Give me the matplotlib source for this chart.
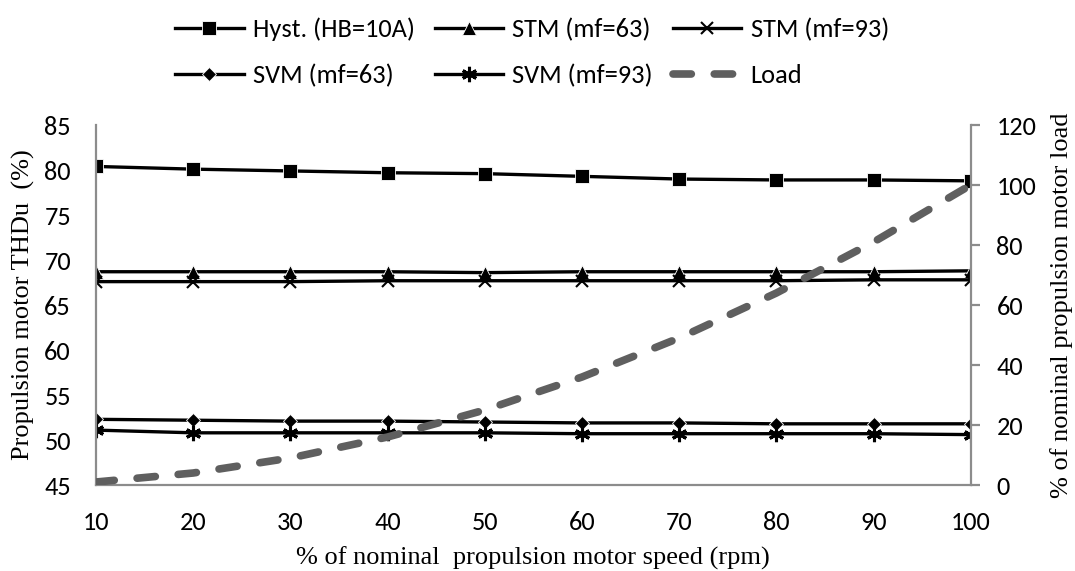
import matplotlib
matplotlib.use("Agg")
import matplotlib.pyplot as plt

speed = [10, 20, 30, 40, 50, 60, 70, 80, 90, 100]
hyst = [80.4, 80.1, 79.9, 79.7, 79.6, 79.3, 79.0, 78.9, 78.9, 78.8]
stm63 = [68.7, 68.7, 68.7, 68.7, 68.6, 68.7, 68.7, 68.7, 68.7, 68.8]
stm93 = [67.6, 67.6, 67.6, 67.7, 67.7, 67.7, 67.7, 67.7, 67.8, 67.8]
svm63 = [52.3, 52.2, 52.1, 52.1, 52.0, 51.9, 51.9, 51.8, 51.8, 51.8]
svm93 = [51.1, 50.8, 50.8, 50.8, 50.8, 50.7, 50.7, 50.7, 50.7, 50.6]
load = [1, 4, 9, 16, 25, 36, 49, 64, 81, 100]

SANS = ["Carlito", "Lato", "DejaVu Sans"]     # Carlito = Calibri metrics
SERIF = ["Liberation Serif", "DejaVu Serif"]
GREY = "#8c8c8c"

plt.rcParams["font.family"] = SANS

fig = plt.figure(figsize=(10.75, 5.71), dpi=100)
ax = fig.add_axes([0.0893, 0.1506, 0.8137, 0.6304])
ax2 = ax.twinx()

line_kw = dict(color="black", lw=2.4, ms=10, mec="white", mew=0.6)
h1, = ax.plot(speed, hyst, marker="s", label="Hyst. (HB=10A)", **line_kw)
h2, = ax.plot(speed, stm63, marker="^", label="STM (mf=63)", **line_kw)
h3, = ax.plot(speed, stm93, marker="x", label="STM (mf=93)",
              color="black", lw=2.4, ms=9, mew=1.5)
h4, = ax.plot(speed, svm63, marker="D", label="SVM (mf=63)",
              color="black", lw=2.4, ms=7.5, mec="white", mew=0.6)
h5, = ax.plot(speed, svm93, marker=(6, 2, 0), label="SVM (mf=93)",
              color="black", lw=2.4, ms=11, mew=2.2)
h6, = ax2.plot(speed, load, color="#5f5f5f", lw=5.5, ls=(0, (2.4, 3.0)),
               dash_capstyle="round", label="Load")

ax.set_xlim(10, 100)
ax.set_ylim(45, 85)
ax.set_yticks(range(45, 86, 5))
ax.set_xticks(speed)
ax2.set_ylim(0, 120)
ax2.set_yticks(range(0, 121, 20))

for a in (ax, ax2):
    a.spines["top"].set_visible(False)
    for s in ("left", "bottom", "right"):
        a.spines[s].set_color(GREY)
        a.spines[s].set_linewidth(1.6)
ax.spines["right"].set_visible(False)
ax2.spines["left"].set_visible(False)
ax2.spines["bottom"].set_visible(False)

ax.tick_params(axis="y", length=0, pad=18, labelsize=19)
ax.tick_params(axis="x", length=0, pad=19, labelsize=19)
ax2.tick_params(axis="y", length=6.5, width=1.6, color=GREY, pad=12, labelsize=19)

ax.set_ylabel("Propulsion motor THDu  (%)", family=SERIF, fontsize=19, labelpad=7)
ax.set_xlabel("% of nominal  propulsion motor speed (rpm)", family=SERIF,
              fontsize=19, labelpad=9)
ax2.set_ylabel("% of nominal propulsion motor load", family=SERIF, fontsize=19,
               labelpad=10)

# matplotlib fills legend columns first; order so rows read as in the source
handles = [h1, h4, h2, h5, h3, h6]
fig.legend(handles, [h.get_label() for h in handles], ncol=3, frameon=False,
           fontsize=19, loc="upper left", bbox_to_anchor=(0.1628, 0.969),
           borderpad=0, borderaxespad=0,
           handlelength=2.6, handletextpad=0.35, columnspacing=0.75,
           labelspacing=0.85)

fig.savefig("out.png", dpi=100)
